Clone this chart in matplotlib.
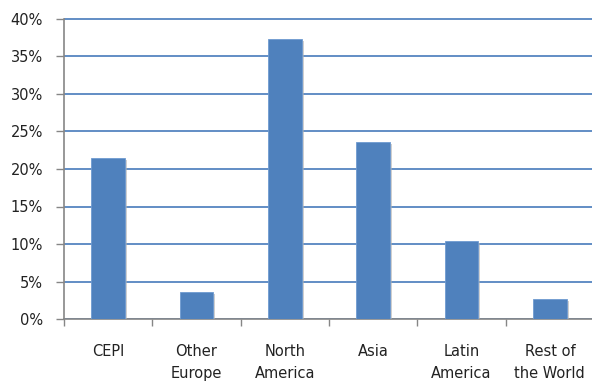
import matplotlib.pyplot as plt
import matplotlib.patheffects as pe
import numpy as np
from matplotlib.ticker import FuncFormatter, FixedLocator

regions = ['CEPI', 'Other\nEurope', 'North\nAmerica', 'Asia', 'Latin\nAmerica', 'Rest of\nthe World']
shares = [21.5, 3.6, 37.3, 23.6, 10.4, 2.7]

fig = plt.figure(figsize=(5.92, 3.82), dpi=100)
# a little headroom above 40% so the top grid line is not clipped
ax = fig.add_axes([64 / 592, 1 - 319 / 382, 530 / 592, 302 / 382])

x = np.arange(len(regions))
shadow = [pe.SimplePatchShadow(offset=(1.5, -1.5), shadow_rgbFace='#b0b0b0', alpha=0.6), pe.Normal()]
ax.bar(x, shares, width=0.38, color='#4f81bd', edgecolor='#6f9bd0', linewidth=0.6,
       zorder=3, path_effects=shadow)

ax.set_ylim(0, 40 * 302 / 300)
ax.set_xlim(-0.5, len(regions) - 0.5)
ax.set_yticks(np.arange(0, 41, 5))
ax.yaxis.set_major_formatter(FuncFormatter(lambda v, p: f'{v:.0f}%'))
ax.grid(axis='y', color='#5585c0', linewidth=1.3, zorder=1)

# labels centred on bars, ticks at category boundaries
ax.set_xticks(x)
ax.set_xticklabels(regions, fontsize=10.5, color='#222222', linespacing=1.6)
ax.tick_params(axis='x', which='major', length=0, pad=18)
ax.xaxis.set_minor_locator(FixedLocator(np.arange(-0.5, len(regions), 1.0)))
ax.tick_params(axis='x', which='minor', length=5, color='#868686', width=1)
ax.tick_params(axis='y', length=6, color='#868686', width=1, labelsize=10.5,
               labelcolor='#222222', pad=9)

ax.spines['top'].set_visible(False)
ax.spines['right'].set_visible(False)
ax.spines['left'].set_bounds(0, 40)
for s in ['left', 'bottom']:
    ax.spines[s].set_color('#868686')
    ax.spines[s].set_linewidth(1.2)

fig.savefig('out.png', dpi=100)
